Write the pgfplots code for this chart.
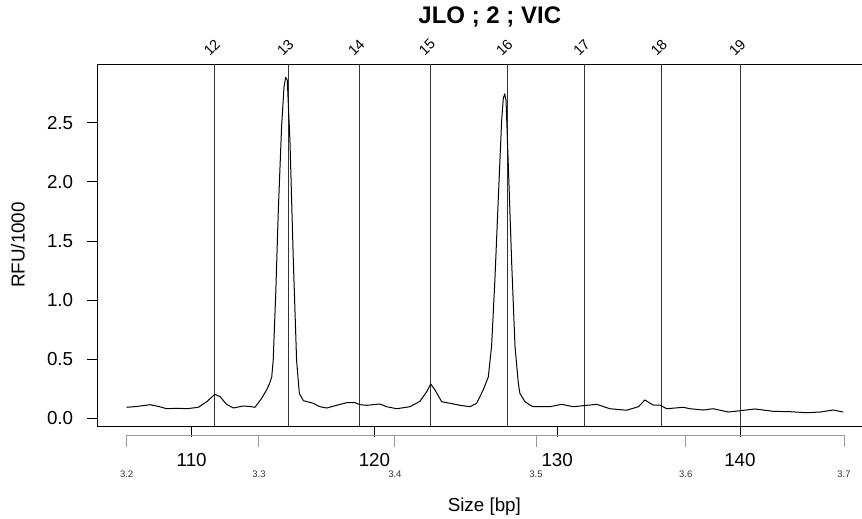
\documentclass[border=0pt]{standalone}
\usepackage{pgfplots}
\pgfplotsset{compat=1.18}
\usepackage{pgfplotstable}
\usepackage{fontspec}
\setmainfont{Liberation Sans}
\pgfplotstableread{
x y
106.44 0.093
107.00 0.100
107.72 0.115
108.20 0.100
108.63 0.081
109.20 0.085
109.73 0.081
110.36 0.093
110.82 0.140
111.27 0.203
111.55 0.183
111.91 0.118
112.28 0.087
112.82 0.104
113.20 0.100
113.46 0.093
113.83 0.169
114.10 0.240
114.25 0.290
114.38 0.350
114.46 0.490
114.60 1.060
114.74 1.760
114.92 2.470
115.05 2.800
115.14 2.884
115.23 2.860
115.38 2.330
115.56 1.340
115.74 0.490
115.89 0.210
116.11 0.149
116.65 0.127
117.02 0.098
117.39 0.087
117.93 0.110
118.48 0.132
118.93 0.132
119.21 0.115
119.57 0.110
120.30 0.121
120.67 0.098
121.22 0.081
121.94 0.098
122.49 0.144
122.86 0.225
123.08 0.290
123.31 0.240
123.68 0.140
124.13 0.127
124.68 0.110
125.23 0.098
125.59 0.127
125.95 0.240
126.23 0.350
126.41 0.610
126.59 1.170
126.78 1.870
126.96 2.520
127.05 2.706
127.13 2.743
127.20 2.690
127.32 2.160
127.51 1.310
127.69 0.610
127.87 0.300
127.96 0.210
128.24 0.140
128.51 0.112
128.69 0.098
129.60 0.098
130.24 0.118
130.88 0.098
131.50 0.108
132.16 0.118
132.89 0.081
133.80 0.068
134.44 0.098
134.80 0.155
135.08 0.127
135.26 0.112
135.62 0.112
135.99 0.081
136.90 0.093
137.26 0.081
137.99 0.070
138.54 0.081
139.36 0.053
140.00 0.064
140.82 0.079
141.82 0.059
142.74 0.056
143.65 0.047
144.38 0.053
145.10 0.070
145.65 0.053
}\trace
\begin{document}
\begin{tikzpicture}
\begin{axis}[
  at={(97.7pt,93pt)}, anchor=south west,
  scale only axis, width=773.3pt, height=362pt,
  xmin=104.857, xmax=147.17,
  ymin=-0.0651, ymax=2.9965,
  clip=false,
  axis line style={line width=0.8pt, black},
  tick pos=left, tick align=outside,
  major tick length=11pt,
  tick style={line width=0.8pt, black},
  xtick={110,120,130,140},
  ytick={0,0.5,1,1.5,2,2.5},
  yticklabel style={/pgf/number format/fixed, /pgf/number format/fixed zerofill, /pgf/number format/precision=1, xshift=-10pt},
  xticklabel style={yshift=-13pt},
  /pgf/number format/assume math mode=true,
  ticklabel style={font=\fontsize{18.8}{22}\selectfont},
  xlabel={Size [bp]},
  ylabel={RFU/1000},
  xlabel style={at={(axis description cs:0.5,-0.222)}, anchor=center, font=\fontsize{18.8}{22}\selectfont},
  ylabel style={at={(axis description cs:-0.1031,0.5)}, anchor=center, rotate=0, font=\fontsize{18.8}{22}\selectfont},
  title={\textbf{JLO ; 2 ; VIC}},
  title style={at={(axis description cs:0.507,1.112)}, anchor=center, font=\fontsize{24}{28}\selectfont},
]
% allele bin lines
\addplot[black!80, line width=0.9pt] coordinates {(111.27,-0.0651) (111.27,2.9965)};
\addplot[black!80, line width=0.9pt] coordinates {(115.29,-0.0651) (115.29,2.9965)};
\addplot[black!80, line width=0.9pt] coordinates {(119.17,-0.0651) (119.17,2.9965)};
\addplot[black!80, line width=0.9pt] coordinates {(123.04,-0.0651) (123.04,2.9965)};
\addplot[black!80, line width=0.9pt] coordinates {(127.27,-0.0651) (127.27,2.9965)};
\addplot[black!80, line width=0.9pt] coordinates {(131.50,-0.0651) (131.50,2.9965)};
\addplot[black!80, line width=0.9pt] coordinates {(135.73,-0.0651) (135.73,2.9965)};
\addplot[black!80, line width=0.9pt] coordinates {(140.02,-0.0651) (140.02,2.9965)};
% trace
\addplot[black, line width=1pt, line join=round] table[x=x,y=y] {\trace};
% bin labels
\node[rotate=45, font=\fontsize{14.5}{16}\selectfont] at ([xshift=-3pt,yshift=16.5pt]axis cs:111.27,2.9965) {12};
\node[rotate=45, font=\fontsize{14.5}{16}\selectfont] at ([xshift=-3pt,yshift=16.5pt]axis cs:115.29,2.9965) {13};
\node[rotate=45, font=\fontsize{14.5}{16}\selectfont] at ([xshift=-3pt,yshift=16.5pt]axis cs:119.17,2.9965) {14};
\node[rotate=45, font=\fontsize{14.5}{16}\selectfont] at ([xshift=-3pt,yshift=16.5pt]axis cs:123.04,2.9965) {15};
\node[rotate=45, font=\fontsize{14.5}{16}\selectfont] at ([xshift=-3pt,yshift=16.5pt]axis cs:127.27,2.9965) {16};
\node[rotate=45, font=\fontsize{14.5}{16}\selectfont] at ([xshift=-3pt,yshift=16.5pt]axis cs:131.50,2.9965) {17};
\node[rotate=45, font=\fontsize{14.5}{16}\selectfont] at ([xshift=-3pt,yshift=16.5pt]axis cs:135.73,2.9965) {18};
\node[rotate=45, font=\fontsize{14.5}{16}\selectfont] at ([xshift=-3pt,yshift=16.5pt]axis cs:140.02,2.9965) {19};
% secondary (time) axis
\draw[black!40, line width=0.9pt] ([yshift=-16.7pt]axis cs:106.44,0) -- ([yshift=-16.7pt]axis cs:145.69,0);
\draw[black!40, line width=0.9pt] ([yshift=-16.7pt]axis cs:106.44,0) -- ([yshift=-28.4pt]axis cs:106.44,0);
\draw[black!40, line width=0.9pt] ([yshift=-16.7pt]axis cs:113.68,0) -- ([yshift=-28.4pt]axis cs:113.68,0);
\draw[black!40, line width=0.9pt] ([yshift=-16.7pt]axis cs:121.12,0) -- ([yshift=-28.4pt]axis cs:121.12,0);
\draw[black!40, line width=0.9pt] ([yshift=-16.7pt]axis cs:128.84,0) -- ([yshift=-28.4pt]axis cs:128.84,0);
\draw[black!40, line width=0.9pt] ([yshift=-16.7pt]axis cs:137.03,0) -- ([yshift=-28.4pt]axis cs:137.03,0);
\draw[black!40, line width=0.9pt] ([yshift=-16.7pt]axis cs:145.69,0) -- ([yshift=-28.4pt]axis cs:145.69,0);
\node[font=\fontsize{9.5}{11}\selectfont, text=black!80] at ([yshift=-55.7pt]axis cs:106.44,0) {3.2};
\node[font=\fontsize{9.5}{11}\selectfont, text=black!80] at ([yshift=-55.7pt]axis cs:113.68,0) {3.3};
\node[font=\fontsize{9.5}{11}\selectfont, text=black!80] at ([yshift=-55.7pt]axis cs:121.12,0) {3.4};
\node[font=\fontsize{9.5}{11}\selectfont, text=black!80] at ([yshift=-55.7pt]axis cs:128.84,0) {3.5};
\node[font=\fontsize{9.5}{11}\selectfont, text=black!80] at ([yshift=-55.7pt]axis cs:137.03,0) {3.6};
\node[font=\fontsize{9.5}{11}\selectfont, text=black!80] at ([yshift=-55.7pt]axis cs:145.69,0) {3.7};
\end{axis}
\pgfresetboundingbox
\path[use as bounding box] (0,0) rectangle (862pt,519pt);
\end{tikzpicture}
\end{document}
